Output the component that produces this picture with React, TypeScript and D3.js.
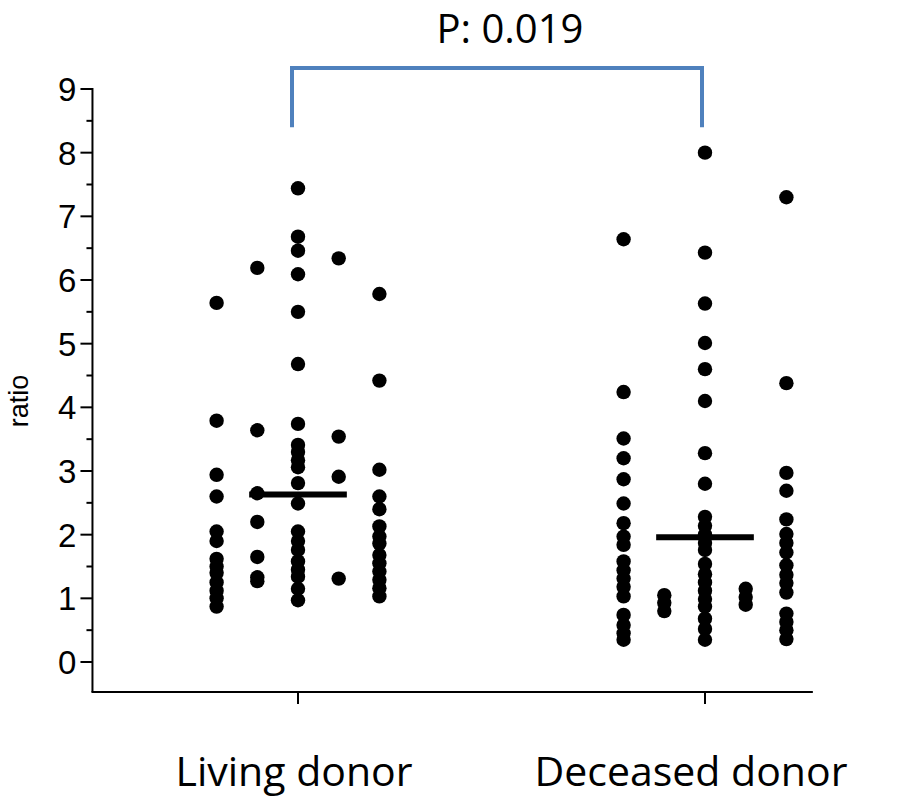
import React from "react";
import * as d3 from "d3";

const groups = ["Living donor", "Deceased donor"];
const pLabel = "P: 0.019";
const yTicks = [0, 1, 2, 3, 4, 5, 6, 7, 8, 9];
const medians = [2.63, 1.96];

// living donor sub-columns (left to right)
const living1 = [5.64, 3.79, 2.94, 2.6, 2.05, 1.9, 1.62, 1.5, 1.4, 1.25, 1.12, 1.0, 0.87];
const living2 = [6.19, 3.64, 2.65, 2.2, 1.65, 1.33, 1.27];
const living3 = [7.44, 6.68, 6.46, 6.09, 5.5, 4.68, 3.74, 3.41, 3.3, 3.17, 3.06, 2.81, 2.49, 2.05, 1.9, 1.76, 1.58, 1.45, 1.34, 1.15, 0.97];
const living4 = [6.34, 3.54, 2.91, 1.31];
const living5 = [5.78, 4.42, 3.02, 2.6, 2.4, 2.13, 1.97, 1.86, 1.68, 1.55, 1.42, 1.29, 1.16, 1.03];

// deceased donor sub-columns
const deceased1 = [6.64, 4.24, 3.51, 3.2, 2.87, 2.49, 2.18, 1.97, 1.84, 1.58, 1.44, 1.31, 1.18, 1.03, 0.74, 0.58, 0.45, 0.35];
const deceased2 = [1.05, 0.93, 0.8];
const deceased3 = [8.0, 6.43, 5.63, 5.01, 4.6, 4.1, 3.28, 2.8, 2.28, 2.14, 2.0, 1.87, 1.76, 1.54, 1.38, 1.25, 1.12, 0.99, 0.87, 0.68, 0.52, 0.35];
const deceased4 = [1.15, 1.02, 0.9];
const deceased5 = [7.3, 4.38, 2.97, 2.69, 2.24, 2.01, 1.87, 1.72, 1.52, 1.37, 1.24, 1.09, 0.76, 0.63, 0.5, 0.36];

const columns = [
  [living1, living2, living3, living4, living5],
  [deceased1, deceased2, deceased3, deceased4, deceased5],
];

export default function App() {
  const W = 907, H = 801;
  const x = d3.scaleLinear().domain([0, 1]).range([298, 705]);
  const y = d3.scaleLinear().domain([0, 9]).range([662, 89]);
  const subStep = 0.1;
  const axisX = x(-0.505);
  const axisRight = x(1.265);
  const axisBottomVal = -0.47;
  const axisY = y(axisBottomVal);
  const minor = d3.range(0.5, 9, 1);

  const dots: { cx: number; cy: number }[] = [];
  columns.forEach((cols, g) => {
    cols.forEach((vals, j) => {
      vals.forEach((v) => {
        dots.push({ cx: x(g + (j - 2) * subStep), cy: y(v) });
      });
    });
  });

  const bracketTop = y(9.33);
  const bracketBottom = y(8.4);
  const bL = x(0) - 6;
  const bR = x(1) - 3;
  const bracketPath = d3.path();
  bracketPath.moveTo(bL, bracketBottom);
  bracketPath.lineTo(bL, bracketTop);
  bracketPath.lineTo(bR, bracketTop);
  bracketPath.lineTo(bR, bracketBottom);

  return (
    <svg width={W} height={H} style={{ position: "absolute", left: 0, top: 0, background: "#fff" }}>
      <rect x={0} y={0} width={W} height={H} fill="#fff" />
      {/* y axis */}
      <line x1={axisX} x2={axisX} y1={y(9) - 1} y2={axisY} stroke="#000" strokeWidth={2} />
      {yTicks.map((t) => (
        <g key={"t" + t}>
          <line x1={axisX - 12} x2={axisX} y1={y(t)} y2={y(t)} stroke="#000" strokeWidth={2} />
          <text
            x={axisX - 16}
            y={y(t)}
            dy="0.36em"
            textAnchor="end"
            fontFamily="'Liberation Sans', Arial, sans-serif"
            fontSize={33}
            fill="#000"
          >
            {t}
          </text>
        </g>
      ))}
      {minor.map((t) => (
        <line key={"m" + t} x1={axisX - 6} x2={axisX} y1={y(t)} y2={y(t)} stroke="#000" strokeWidth={2} />
      ))}
      <text
        transform={`translate(28, ${y(4.1)}) rotate(-90)`}
        textAnchor="middle"
        fontFamily="'Liberation Sans', Arial, sans-serif"
        fontSize={27}
        fill="#000"
      >
        ratio
      </text>
      {/* x axis */}
      <line x1={axisX - 1} x2={axisRight} y1={axisY} y2={axisY} stroke="#000" strokeWidth={2} />
      {groups.map((gname, g) => (
        <g key={gname}>
          <line x1={x(g)} x2={x(g)} y1={axisY} y2={axisY + 12} stroke="#000" strokeWidth={2} />
          <text
            x={x(g) - (g === 0 ? 4 : 14)}
            y={786}
            textAnchor="middle"
            fontFamily="'Open Sans', sans-serif"
            fontSize={41}
            fill="#000"
          >
            {gname}
          </text>
        </g>
      ))}
      {/* dots */}
      {dots.map((d, i) => (
        <circle key={i} cx={d.cx} cy={d.cy} r={7.2} fill="#000" />
      ))}
      {/* medians */}
      {medians.map((m, g) => (
        <line
          key={"med" + g}
          x1={x(g - 0.12)}
          x2={x(g + 0.12)}
          y1={y(m)}
          y2={y(m)}
          stroke="#000"
          strokeWidth={6}
        />
      ))}
      {/* bracket */}
      <path d={bracketPath.toString()} fill="none" stroke="#4F81BD" strokeWidth={4} />
      <text
        x={(bL + bR) / 2 + 13}
        y={43}
        textAnchor="middle"
        fontFamily="'Open Sans', sans-serif"
        fontSize={40}
        fill="#000"
      >
        {pLabel}
      </text>
    </svg>
  );
}
